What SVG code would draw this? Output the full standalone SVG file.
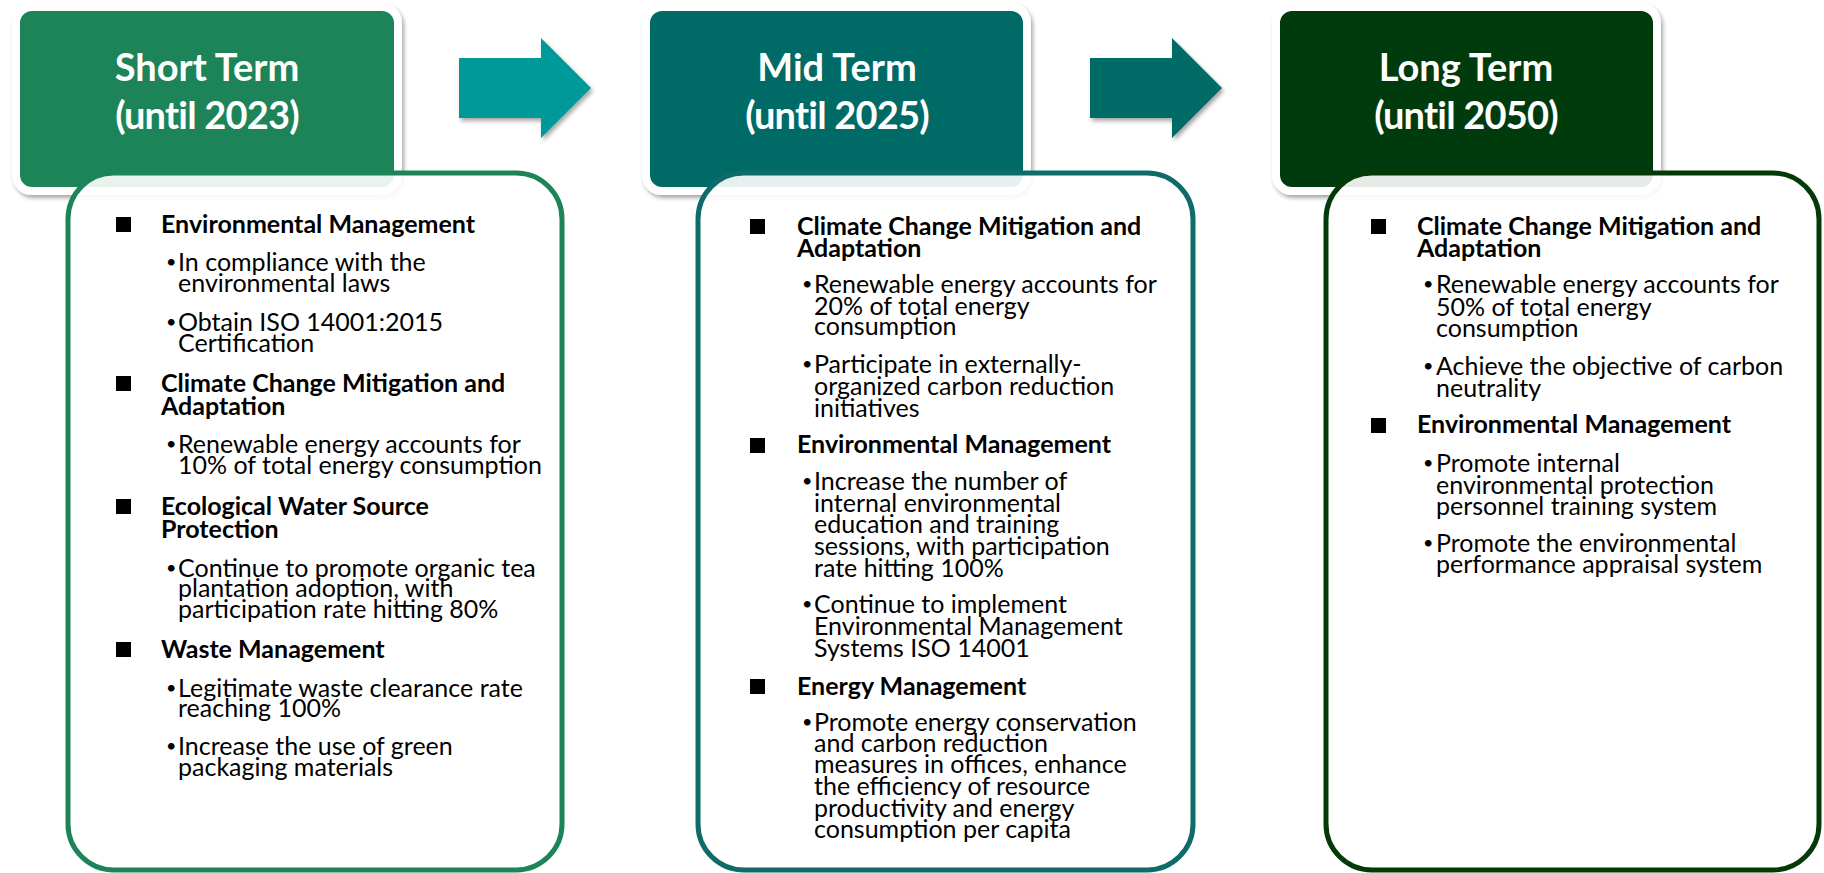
<svg xmlns="http://www.w3.org/2000/svg" width="1824" height="873" viewBox="0 0 1824 873">
<defs>
<style>
text{font-family:Lato,"Liberation Sans",sans-serif;fill:#000}
.t{font-size:38px;font-weight:700;fill:#fff;text-anchor:middle}
.y{letter-spacing:-0.8px}
.h{font-size:25px;font-weight:700}
.b{font-size:25px}
.d{font-size:18px}
.hdr{stroke:#fff;stroke-width:8;filter:url(#sh)}
.box{fill:#fff;fill-opacity:0.9;stroke-width:5}
.arr{filter:url(#sh)}
</style>
<filter id="sh" x="-20%" y="-20%" width="140%" height="140%">
<feGaussianBlur in="SourceAlpha" stdDeviation="2"/>
<feOffset dx="2" dy="3" result="o"/>
<feComponentTransfer><feFuncA type="linear" slope="0.35"/></feComponentTransfer>
<feMerge><feMergeNode/><feMergeNode in="SourceGraphic"/></feMerge>
</filter>
</defs>
<rect width="1824" height="873" fill="#fff"/>

<g id="connectors">
<polygon class="arr" fill="#009999" points="459,58 541,58 541,38 591,88 541,138 541,118 459,118"/>
<polygon class="arr" fill="#036B66" points="1090,58 1172,58 1172,38 1222,88 1172,138 1172,118 1090,118"/>
</g>

<g id="short-term">
<rect class="hdr" x="16" y="7" width="382" height="184" rx="16" fill="#1C8458"/>
<text class="t"><tspan x="207" y="81">Short Term</tspan><tspan class="y" x="207" y="129">(until 2023)</tspan></text>
<rect class="box" x="68" y="173" width="494" height="697" rx="46" stroke="#1C8458"/>
<rect x="116" y="217" width="15" height="15"/>
<text class="h" x="161" y="233">Environmental Management</text>
<text class="b"><tspan class="d" x="166" y="268">•</tspan><tspan x="178" y="271">In compliance with the</tspan><tspan x="178" y="292">environmental laws</tspan></text>
<text class="b"><tspan class="d" x="166" y="328">•</tspan><tspan x="178" y="331">Obtain ISO 14001:2015</tspan><tspan x="178" y="352">Certification</tspan></text>
<rect x="116" y="376" width="15" height="15"/>
<text class="h"><tspan x="161" y="392">Climate Change Mitigation and</tspan><tspan x="161" y="415">Adaptation</tspan></text>
<text class="b"><tspan class="d" x="166" y="450">•</tspan><tspan x="178" y="453">Renewable energy accounts for</tspan><tspan x="178" y="474">10% of total energy consumption</tspan></text>
<rect x="116" y="499" width="15" height="15"/>
<text class="h"><tspan x="161" y="515">Ecological Water Source</tspan><tspan x="161" y="538">Protection</tspan></text>
<text class="b"><tspan class="d" x="166" y="574">•</tspan><tspan x="178" y="577">Continue to promote organic tea</tspan><tspan x="178" y="597">plantation adoption, with</tspan><tspan x="178" y="618">participation rate hitting 80%</tspan></text>
<rect x="116" y="642" width="15" height="15"/>
<text class="h" x="161" y="658">Waste Management</text>
<text class="b"><tspan class="d" x="166" y="694">•</tspan><tspan x="178" y="697">Legitimate waste clearance rate</tspan><tspan x="178" y="717">reaching 100%</tspan></text>
<text class="b"><tspan class="d" x="166" y="752">•</tspan><tspan x="178" y="755">Increase the use of green</tspan><tspan x="178" y="776">packaging materials</tspan></text>
</g>

<g id="mid-term">
<rect class="hdr" x="646" y="7" width="381" height="184" rx="16" fill="#036B66"/>
<text class="t"><tspan x="837" y="81">Mid Term</tspan><tspan class="y" x="837" y="129">(until 2025)</tspan></text>
<rect class="box" x="698" y="173" width="495" height="697" rx="46" stroke="#0F6B68"/>
<rect x="750" y="219" width="15" height="15"/>
<text class="h"><tspan x="797" y="235">Climate Change Mitigation and</tspan><tspan x="797" y="257">Adaptation</tspan></text>
<text class="b"><tspan class="d" x="802" y="290">•</tspan><tspan x="814" y="293">Renewable energy accounts for</tspan><tspan x="814" y="315">20% of total energy</tspan><tspan x="814" y="335">consumption</tspan></text>
<text class="b"><tspan class="d" x="802" y="370">•</tspan><tspan x="814" y="373">Participate in externally-</tspan><tspan x="814" y="395">organized carbon reduction</tspan><tspan x="814" y="417">initiatives</tspan></text>
<rect x="750" y="438" width="15" height="15"/>
<text class="h" x="797" y="453">Environmental Management</text>
<text class="b"><tspan class="d" x="802" y="487">•</tspan><tspan x="814" y="490">Increase the number of</tspan><tspan x="814" y="512">internal environmental</tspan><tspan x="814" y="533">education and training</tspan><tspan x="814" y="555">sessions, with participation</tspan><tspan x="814" y="577">rate hitting 100%</tspan></text>
<text class="b"><tspan class="d" x="802" y="610">•</tspan><tspan x="814" y="613">Continue to implement</tspan><tspan x="814" y="635">Environmental Management</tspan><tspan x="814" y="657">Systems ISO 14001</tspan></text>
<rect x="750" y="679" width="15" height="15"/>
<text class="h" x="797" y="695">Energy Management</text>
<text class="b"><tspan class="d" x="802" y="728">•</tspan><tspan x="814" y="731">Promote energy conservation</tspan><tspan x="814" y="752">and carbon reduction</tspan><tspan x="814" y="773">measures in offices, enhance</tspan><tspan x="814" y="795">the efficiency of resource</tspan><tspan x="814" y="817">productivity and energy</tspan><tspan x="814" y="838">consumption per capita</tspan></text>
</g>

<g id="long-term">
<rect class="hdr" x="1276" y="7" width="381" height="184" rx="16" fill="#043A08"/>
<text class="t"><tspan x="1466" y="81">Long Term</tspan><tspan class="y" x="1466" y="129">(until 2050)</tspan></text>
<rect class="box" x="1326" y="173" width="493" height="697" rx="46" stroke="#043A08"/>
<rect x="1371" y="219" width="15" height="15"/>
<text class="h"><tspan x="1417" y="235">Climate Change Mitigation and</tspan><tspan x="1417" y="257">Adaptation</tspan></text>
<text class="b"><tspan class="d" x="1423" y="290">•</tspan><tspan x="1436" y="293">Renewable energy accounts for</tspan><tspan x="1436" y="316">50% of total energy</tspan><tspan x="1436" y="337">consumption</tspan></text>
<text class="b"><tspan class="d" x="1423" y="372">•</tspan><tspan x="1436" y="375">Achieve the objective of carbon</tspan><tspan x="1436" y="397">neutrality</tspan></text>
<rect x="1371" y="418" width="15" height="15"/>
<text class="h" x="1417" y="433">Environmental Management</text>
<text class="b"><tspan class="d" x="1423" y="469">•</tspan><tspan x="1436" y="472">Promote internal</tspan><tspan x="1436" y="494">environmental protection</tspan><tspan x="1436" y="515">personnel training system</tspan></text>
<text class="b"><tspan class="d" x="1423" y="549">•</tspan><tspan x="1436" y="552">Promote the environmental</tspan><tspan x="1436" y="573">performance appraisal system</tspan></text>
</g>
</svg>
